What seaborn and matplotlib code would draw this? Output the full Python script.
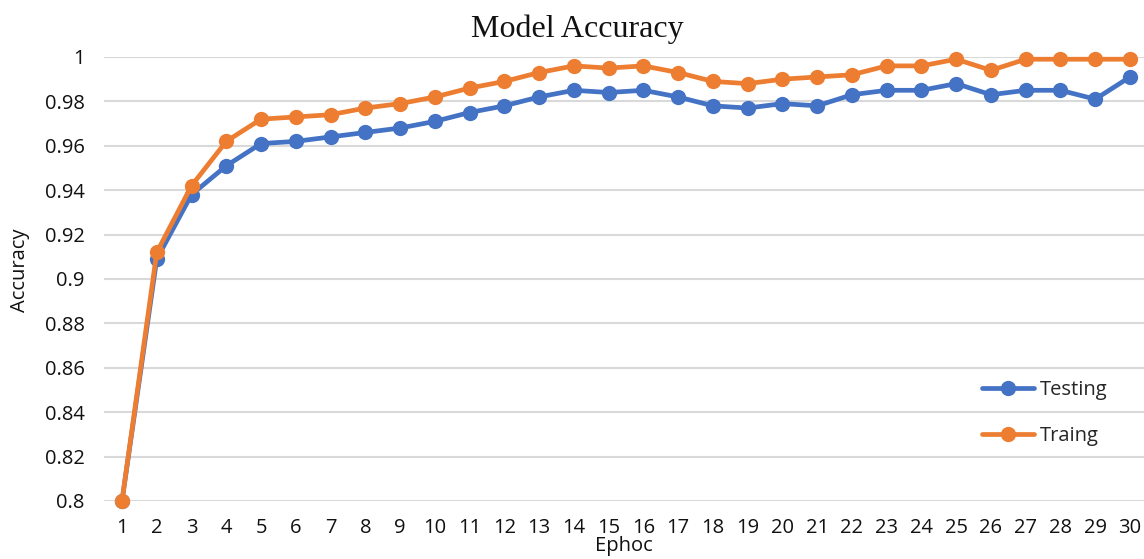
import numpy as np
import pandas as pd
import matplotlib
matplotlib.use("Agg")
import matplotlib.pyplot as plt
import seaborn as sns

epochs = list(range(1, 31))
testing = [0.800, 0.909, 0.938, 0.951, 0.961, 0.962, 0.964, 0.966, 0.968, 0.971,
           0.975, 0.978, 0.982, 0.985, 0.984, 0.985, 0.982, 0.978, 0.977, 0.979,
           0.978, 0.983, 0.985, 0.985, 0.988, 0.983, 0.985, 0.985, 0.981, 0.991]
training = [0.800, 0.912, 0.942, 0.962, 0.972, 0.973, 0.974, 0.977, 0.979, 0.982,
            0.986, 0.989, 0.993, 0.996, 0.995, 0.996, 0.993, 0.989, 0.988, 0.990,
            0.991, 0.992, 0.996, 0.996, 0.999, 0.994, 0.999, 0.999, 0.999, 0.999]
series_names = ["Testing", "Traing"]
y_ticks = [0.8, 0.82, 0.84, 0.86, 0.88, 0.9, 0.92, 0.94, 0.96, 0.98, 1.0]
y_tick_labels = ["0.8", "0.82", "0.84", "0.86", "0.88", "0.9", "0.92", "0.94", "0.96", "0.98", "1"]

df = pd.DataFrame({
    "Ephoc": epochs * 2,
    "Accuracy": testing + training,
    "series": [series_names[0]] * len(epochs) + [series_names[1]] * len(epochs),
})

sns.set_theme(style="white")
plt.rcParams["font.family"] = ["Open Sans", "DejaVu Sans"]

W, H = 1144, 559
fig = plt.figure(figsize=(W / 100, H / 100), dpi=100)
ax = fig.add_axes([104 / W, (H - 501) / H, (W - 104) / W, 444 / H])

palette = {"Testing": "#4472C4", "Traing": "#ED7D31"}
sns.lineplot(data=df, x="Ephoc", y="Accuracy", hue="series", hue_order=series_names,
             palette=palette, marker="o", markersize=11, markeredgewidth=0,
             linewidth=3.4, ax=ax, legend=False, clip_on=False, zorder=3)

sp = (1130 - 122) / 29
ax.set_xlim(1 - 18 / sp, 30 + 14 / sp)
ax.set_ylim(0.8, 1.0)
ax.set_xticks(epochs)
ax.set_xticklabels([str(e) for e in epochs])
ax.set_yticks(y_ticks)
ax.set_yticklabels(y_tick_labels)
ax.yaxis.grid(True, color="#d9d9d9", linewidth=1.5)
ax.xaxis.grid(False)
ax.set_axisbelow(True)
for s in ax.spines.values():
    s.set_visible(False)
ax.tick_params(axis="both", length=0, labelsize=14.5, colors="#111111")
ax.tick_params(axis="y", pad=14)
ax.tick_params(axis="x", pad=12)

ax.set_xlabel("")
ax.set_ylabel("")
fig.text(624 / W, 1 - 546 / H, "Ephoc", ha="center", va="center", fontsize=14.5, color="#111111")
fig.text(20 / W, 1 - 270 / H, "Accuracy", ha="center", va="center", rotation=90,
         fontsize=14.5, color="#111111")
fig.text(577 / W, 1 - 29 / H, "Model Accuracy", ha="center", va="center",
         fontsize=23, family="Liberation Serif", color="#111111")

handles = [plt.Line2D([], [], color=palette[n], marker="o", markersize=11,
                      markeredgewidth=0, linewidth=3.4) for n in series_names]
fig.legend(handles, series_names, loc="center left",
           bbox_to_anchor=(972 / W, 1 - 413 / H), frameon=False, fontsize=14.5,
           handlelength=2.6, handletextpad=0.25, labelspacing=1.25, borderpad=0)

fig.savefig("out.png", dpi=100)
